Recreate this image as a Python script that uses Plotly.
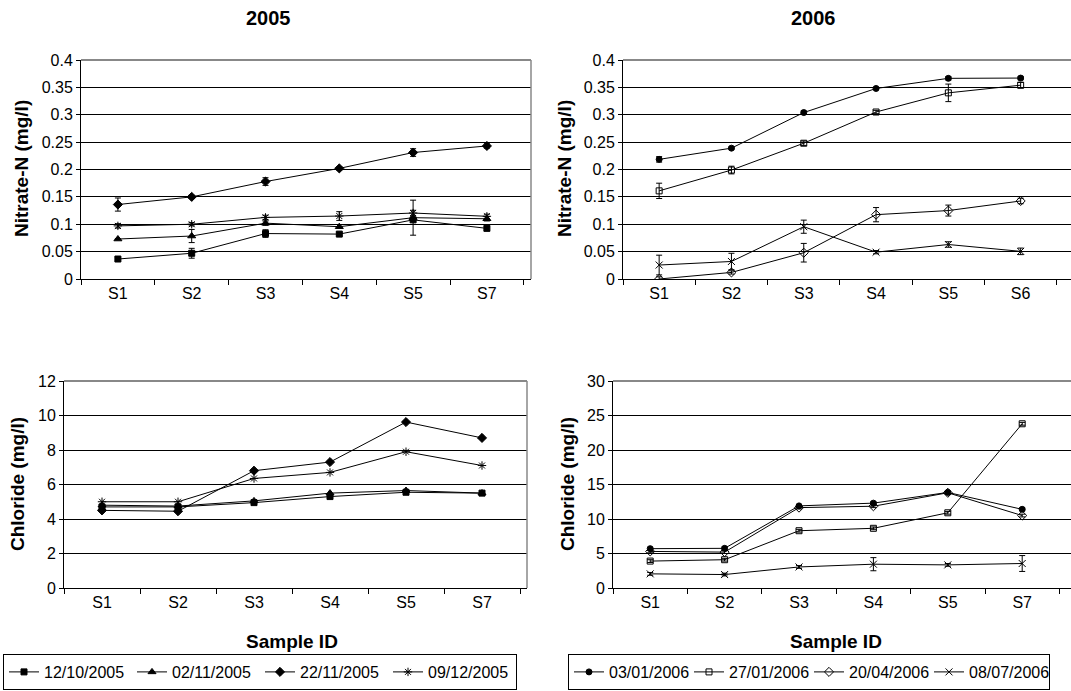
import plotly.graph_objects as go

W, H = 1071, 691
FONT = "Liberation Sans, Arial, sans-serif"

# ---------------- data ----------------
cats_n05 = ["S1", "S2", "S3", "S4", "S5", "S7"]
cats_n06 = ["S1", "S2", "S3", "S4", "S5", "S6"]
cats_cl = ["S1", "S2", "S3", "S4", "S5", "S7"]

labels_05 = ["12/10/2005", "02/11/2005", "22/11/2005", "09/12/2005"]
labels_06 = ["03/01/2006", "27/01/2006", "20/04/2006", "08/07/2006"]

# Nitrate-N 2005
n05_a = [0.0365, 0.047, 0.083, 0.082, 0.108, 0.0925]
n05_b = [0.073, 0.0785, 0.102, 0.0955, 0.112, 0.110]
n05_c = [0.136, 0.150, 0.178, 0.202, 0.231, 0.243]
n05_d = [0.097, 0.100, 0.1125, 0.115, 0.1205, 0.1145]
n05_a_err = [0.003, 0.009, 0.007, 0.003, 0.0, 0.004]
n05_b_err = [0.0, 0.012, 0.004, 0.0, 0.032, 0.004]
n05_c_err = [0.012, 0.003, 0.007, 0.003, 0.007, 0.004]
n05_d_err = [0.004, 0.003, 0.004, 0.008, 0.005, 0.004]

# Nitrate-N 2006
n06_a = [0.2185, 0.239, 0.304, 0.348, 0.3665, 0.367]
n06_b = [0.161, 0.199, 0.248, 0.305, 0.340, 0.354]
n06_c = [0.0, 0.012, 0.048, 0.1175, 0.125, 0.1425]
n06_d = [0.0255, 0.032, 0.0955, 0.049, 0.063, 0.0505]
n06_a_err = [0.005, 0.002, 0.003, 0.002, 0.003, 0.003]
n06_b_err = [0.014, 0.007, 0.004, 0.003, 0.016, 0.005]
n06_c_err = [0.004, 0.003, 0.017, 0.013, 0.010, 0.005]
n06_d_err = [0.018, 0.015, 0.012, 0.003, 0.005, 0.006]

# Chloride 2005
c05_a = [4.7, 4.7, 4.95, 5.3, 5.55, 5.5]
c05_b = [4.8, 4.75, 5.05, 5.5, 5.65, 5.5]
c05_c = [4.5, 4.45, 6.8, 7.3, 9.62, 8.7]
c05_d = [5.0, 5.0, 6.35, 6.7, 7.9, 7.1]

# Chloride 2006
c06_a = [5.7, 5.75, 11.9, 12.3, 13.85, 11.4]
c06_b = [3.9, 4.1, 8.3, 8.65, 10.9, 23.8]
c06_c = [5.3, 5.2, 11.65, 11.85, 13.8, 10.5]
c06_d = [2.05, 1.95, 3.05, 3.45, 3.35, 3.55]
c06_a_err = [0.2, 0.2, 0.2, 0.2, 0.2, 0.2]
c06_b_err = [0.2, 0.2, 0.2, 0.2, 0.2, 0.2]
c06_c_err = [0.2, 0.2, 0.2, 0.2, 0.2, 0.2]
c06_d_err = [0.2, 0.2, 0.2, 0.95, 0.2, 1.15]

sym05 = ["square", "triangle-up", "diamond", "asterisk-open"]
size05 = [6, 7, 7, 7]
sym06 = ["circle", "square-open", "diamond-open", "x-thin-open"]
size06 = [6, 6, 7, 7]

fig = go.Figure()


def add(xs, ys, err, name, sym, size, xa, ya, showleg, legend):
    ekw = {}
    if err is not None:
        ekw = dict(error_y=dict(type="data", array=err, color="black",
                                thickness=1, width=3))
    fig.add_trace(go.Scatter(
        x=xs, y=ys, name=name, mode="lines+markers",
        line=dict(color="black", width=1),
        marker=dict(symbol=sym, size=size, color="black",
                    line=dict(color="black", width=1)),
        xaxis=xa, yaxis=ya, showlegend=showleg, legend=legend, **ekw))


ser05n = [n05_a, n05_b, n05_c, n05_d]
err05n = [n05_a_err, n05_b_err, n05_c_err, n05_d_err]
ser06n = [n06_a, n06_b, n06_c, n06_d]
err06n = [n06_a_err, n06_b_err, n06_c_err, n06_d_err]
ser05c = [c05_a, c05_b, c05_c, c05_d]
ser06c = [c06_a, c06_b, c06_c, c06_d]
err06c = [c06_a_err, c06_b_err, c06_c_err, c06_d_err]

for i in range(4):
    add(cats_n05, ser05n[i], err05n[i], labels_05[i], sym05[i], size05[i], "x", "y", True, "legend")
    add(cats_n06, ser06n[i], err06n[i], labels_06[i], sym06[i], size06[i], "x2", "y2", True, "legend2")
    add(cats_cl, ser05c[i], None, labels_05[i], sym05[i], size05[i], "x3", "y3", False, "legend")
    add(cats_cl, ser06c[i], err06c[i], labels_06[i], sym06[i], size06[i], "x4", "y4", False, "legend2")


def px_x(p):
    return p / W


def px_y(p):
    return 1 - p / H


# (x0, x1 of plot area), (y bottom, y top), category pitch in px
geo = {
    1: (81, 531, 279, 60, 73.8),
    2: (623, 1071, 279, 60, 72.3),
    3: (64, 527, 588, 381, 76.0),
    4: (613, 1071, 588, 381, 74.4),
}
yr = {1: (0.4, 0.05), 2: (0.4, 0.05), 3: (12, 2), 4: (30, 5)}

tickfont = dict(family=FONT, size=16, color="black")
layout = {}
for k in range(1, 5):
    sx = "" if k == 1 else str(k)
    x0, x1, yb, yt, pitch = geo[k]
    xmax = -0.5 + (x1 - x0) / pitch
    layout["xaxis" + sx] = dict(
        domain=[px_x(x0), px_x(x1)], anchor="y" + sx, type="category",
        range=[-0.5, xmax], tickson="boundaries",
        ticks="outside", ticklen=5, tickcolor="black", tickwidth=1,
        showline=True, linecolor="black", linewidth=1, showgrid=False,
        zeroline=False, tickfont=tickfont, fixedrange=True)
    mx, dt = yr[k]
    layout["yaxis" + sx] = dict(
        domain=[px_y(yb), px_y(yt)], anchor="x" + sx, range=[0, mx], dtick=dt, tick0=0,
        ticks="outside", ticklen=4, tickcolor="black", tickwidth=1,
        showline=True, linecolor="black", linewidth=1, showgrid=True,
        gridcolor="black", gridwidth=1, zeroline=False, tickfont=tickfont,
        fixedrange=True)

shapes = []
for k in range(1, 5):
    sx = "" if k == 1 else str(k)
    shapes.append(dict(type="line", xref="x" + sx + " domain", yref="y" + sx + " domain",
                       x0=0, x1=1, y0=1, y1=1,
                       line=dict(color="#888888", width=2), layer="above"))
    if k in (1, 3):
        shapes.append(dict(type="line", xref="x" + sx + " domain", yref="y" + sx + " domain",
                           x0=1, x1=1, y0=0, y1=1,
                           line=dict(color="#888888", width=1.5), layer="above"))

ann = []


def text(x, y, s, size=19, angle=0):
    ann.append(dict(x=px_x(x), y=px_y(y), xref="paper", yref="paper", text="<b>" + s + "</b>",
                    showarrow=False, textangle=angle, xanchor="center", yanchor="middle",
                    font=dict(family=FONT, size=size, color="black")))


text(268, 18, "2005", 20)
text(813, 18, "2006", 20)
text(22, 169, "Nitrate-N (mg/l)", angle=-90)
text(565, 169, "Nitrate-N (mg/l)", angle=-90)
text(17, 484, "Chloride (mg/l)", angle=-90)
text(567, 484, "Chloride (mg/l)", angle=-90)
text(292, 641, "Sample ID")
text(836, 641, "Sample ID")

legfont = dict(family=FONT, size=16, color="black")
common_leg = dict(yanchor="top", xanchor="left", orientation="h", bordercolor="black",
                  borderwidth=1, font=legfont, bgcolor="white", itemwidth=30,
                  tracegroupgap=0, entrywidthmode="pixels")
fig.update_layout(
    width=W, height=H, margin=dict(l=0, r=0, t=0, b=0, autoexpand=False),
    paper_bgcolor="white", plot_bgcolor="white",
    shapes=shapes, annotations=ann,
    legend=dict(x=px_x(3), y=px_y(654), entrywidth=83, **common_leg),
    legend2=dict(x=px_x(568), y=px_y(654), entrywidth=75, **common_leg),
    **layout)

fig.write_html(
    "out.html",
    config={"displayModeBar": False},
    post_script="document.body.style.margin='0';document.body.style.overflow='hidden';",
)
